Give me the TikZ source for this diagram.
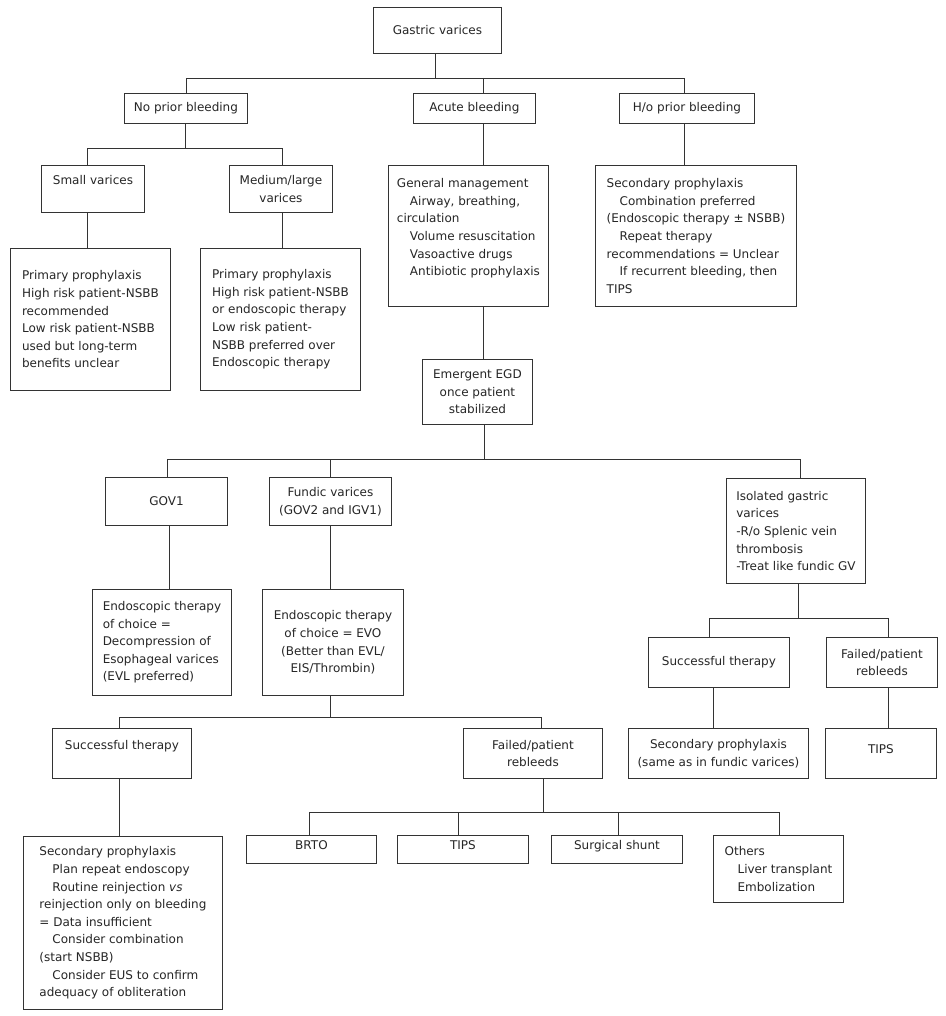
\documentclass[tikz,border=0pt]{standalone}
\usepackage{fontspec}
\setmainfont{DejaVu Sans}
\begin{document}
\begin{tikzpicture}[x=1pt,y=-1pt,
  every node/.style={font=\fontsize{12pt}{17.6pt}\selectfont, text=black!85},
  box/.style={draw=black!80, line width=0.9pt, inner sep=0pt, anchor=north west, align=center},
  lbox/.style={box, align=left},
  lowtext/.style={text height=9pt, text depth=9pt},
  conn/.style={draw=black!80, line width=0.9pt}]
\useasboundingbox (0,0) rectangle (945,1016);
\fill[white] (0,0) rectangle (945,1016);

% boxes
\node[box, minimum width=128pt, minimum height=46pt] (gv) at (373,7) {Gastric varices};
\node[box, minimum width=123pt, minimum height=30pt] (nopb) at (124,93) {No prior bleeding};
\node[box, minimum width=122pt, minimum height=30pt] (acute) at (413,93) {Acute bleeding};
\node[box, minimum width=135pt, minimum height=30pt] (hopb) at (619,93) {H/o prior bleeding};

\node[box, minimum width=103pt, minimum height=47pt] (small) at (41,165) {Small varices\\\mbox{}};
\node[box, minimum width=103pt, minimum height=47pt] (medium) at (229,165) {Medium/large\\varices};

\node[lbox, minimum width=160pt, minimum height=142pt] (pp1) at (10,248)
 {Primary prophylaxis\\High risk patient-NSBB\\recommended\\Low risk patient-NSBB\\used but long-term\\benefits unclear};
\node[lbox, minimum width=160pt, minimum height=142pt] (pp2) at (200,248)
 {Primary prophylaxis\\High risk patient-NSBB\\or endoscopic therapy\\Low risk patient-\\NSBB preferred over\\Endoscopic therapy};

\node[lbox, minimum width=160pt, minimum height=141pt] (gm) at (388,165)
 {General management\\\hspace*{13pt}Airway, breathing,\\circulation\\\hspace*{13pt}Volume resuscitation\\\hspace*{13pt}Vasoactive drugs\\\hspace*{13pt}Antibiotic prophylaxis\\\mbox{}};
\node[lbox, minimum width=201pt, minimum height=141pt] (sp) at (595,165)
 {Secondary prophylaxis\\\hspace*{13pt}Combination preferred\\(Endoscopic therapy ± NSBB)\\\hspace*{13pt}Repeat therapy\\recommendations = Unclear\\\hspace*{13pt}If recurrent bleeding, then\\TIPS};

\node[box, minimum width=110pt, minimum height=65pt] (egd) at (422,359) {Emergent EGD\\once patient\\stabilized};

\node[box, minimum width=122pt, minimum height=48pt] (gov1) at (105,477) {GOV1};
\node[box, minimum width=122pt, minimum height=48pt] (fundic) at (269,477) {Fundic varices\\(GOV2 and IGV1)};
\node[lbox, minimum width=139pt, minimum height=105pt] (iso) at (726,478)
 {Isolated gastric\\varices\\-R/o Splenic vein\\thrombosis\\-Treat like fundic GV};

\node[lbox, minimum width=139pt, minimum height=106pt] (et1) at (92,589)
 {Endoscopic therapy\\of choice =\\Decompression of\\Esophageal varices\\(EVL preferred)};
\node[box, minimum width=141pt, minimum height=106pt] (evo) at (262,589)
 {Endoscopic therapy\\of choice = EVO\\(Better than EVL/\\EIS/Thrombin)};

\node[box, minimum width=139pt, minimum height=50pt] (succL) at (52,728) {Successful therapy\\\mbox{}};
\node[box, minimum width=139pt, minimum height=50pt] (failM) at (463,728) {Failed/patient\\rebleeds};

\node[box, minimum width=141pt, minimum height=50pt] (succR) at (648,637) {Successful therapy};
\node[box, minimum width=111pt, minimum height=50pt] (failR) at (826,637) {Failed/patient\\rebleeds};
\node[box, minimum width=180pt, minimum height=50pt] (sp2) at (628,728) {Secondary prophylaxis\\(same as in fundic varices)};
\node[box, lowtext, minimum width=111pt, minimum height=50pt] (tipsR) at (825,728) {TIPS};

\node[lbox, minimum width=199pt, minimum height=173pt] (sp3) at (23,836)
 {Secondary prophylaxis\\\hspace*{13pt}Plan repeat endoscopy\\\hspace*{13pt}Routine reinjection \textit{vs}\\reinjection only on bleeding\\= Data insufficient\\\hspace*{13pt}Consider combination\\(start NSBB)\\\hspace*{13pt}Consider EUS to confirm\\adequacy of obliteration};

\node[box, lowtext, minimum width=130pt, minimum height=28pt] (brto) at (246,835) {BRTO};
\node[box, lowtext, minimum width=131pt, minimum height=28pt] (tipsM) at (397,835) {TIPS};
\node[box, lowtext, minimum width=131pt, minimum height=28pt] (shunt) at (551,835) {Surgical shunt};
\node[lbox, minimum width=130pt, minimum height=67pt] (others) at (713,835)
 {Others\\\hspace*{13pt}Liver transplant\\\hspace*{13pt}Embolization};

% tree 1
\coordinate (t1) at (435,78);
\coordinate (t1a) at (186,78);
\coordinate (t1b) at (483,78);
\coordinate (t1c) at (684,78);
\draw[conn] (gv.south -| t1) -- (t1);
\draw[conn] (t1a |- nopb.north) -- (t1a) -- (t1c) -- (t1c |- hopb.north);
\draw[conn] (t1b) -- (t1b |- acute.north);

% tree 2
\coordinate (t2) at (185,148);
\coordinate (t2a) at (87,148);
\coordinate (t2b) at (282,148);
\draw[conn] (nopb.south -| t2) -- (t2);
\draw[conn] (t2a |- small.north) -- (t2a) -- (t2b) -- (t2b |- medium.north);
\draw[conn] (small.south -| t2a) -- (t2a |- pp1.north);
\draw[conn] (medium.south -| t2b) -- (t2b |- pp2.north);

% acute and prior bleeding chains
\draw[conn] (acute.south -| t1b) -- (t1b |- gm.north);
\draw[conn] (gm.south -| t1b) -- (t1b |- egd.north);
\draw[conn] (hopb.south -| t1c) -- (t1c |- sp.north);

% tree 3
\coordinate (t3) at (484,459);
\coordinate (t3a) at (167,459);
\coordinate (t3b) at (330,459);
\coordinate (t3c) at (800,459);
\draw[conn] (egd.south -| t3) -- (t3);
\draw[conn] (t3a |- gov1.north) -- (t3a) -- (t3c) -- (t3c |- iso.north);
\draw[conn] (t3b) -- (t3b |- fundic.north);
\coordinate (g1) at (169,560);
\draw[conn] (gov1.south -| g1) -- (g1 |- et1.north);
\draw[conn] (fundic.south -| t3b) -- (t3b |- evo.north);

% tree 4
\coordinate (t4) at (330,717);
\coordinate (t4a) at (119,717);
\coordinate (t4b) at (541,717);
\draw[conn] (evo.south -| t4) -- (t4);
\draw[conn] (t4a |- succL.north) -- (t4a) -- (t4b) -- (t4b |- failM.north);
\draw[conn] (succL.south -| t4a) -- (t4a |- sp3.north);

% tree 5
\coordinate (t5) at (543,812);
\coordinate (t5a) at (309,812);
\coordinate (t5b) at (458,812);
\coordinate (t5c) at (618,812);
\coordinate (t5d) at (779,812);
\draw[conn] (failM.south -| t5) -- (t5);
\draw[conn] (t5a |- brto.north) -- (t5a) -- (t5d) -- (t5d |- others.north);
\draw[conn] (t5b) -- (t5b |- tipsM.north);
\draw[conn] (t5c) -- (t5c |- shunt.north);

% tree 6
\coordinate (t6) at (798,618);
\coordinate (t6a) at (709,618);
\coordinate (t6b) at (888,618);
\coordinate (t6s) at (713,700);
\draw[conn] (iso.south -| t6) -- (t6);
\draw[conn] (t6a |- succR.north) -- (t6a) -- (t6b) -- (t6b |- failR.north);
\draw[conn] (succR.south -| t6s) -- (t6s |- sp2.north);
\draw[conn] (failR.south -| t6b) -- (t6b |- tipsR.north);
\end{tikzpicture}
\end{document}
